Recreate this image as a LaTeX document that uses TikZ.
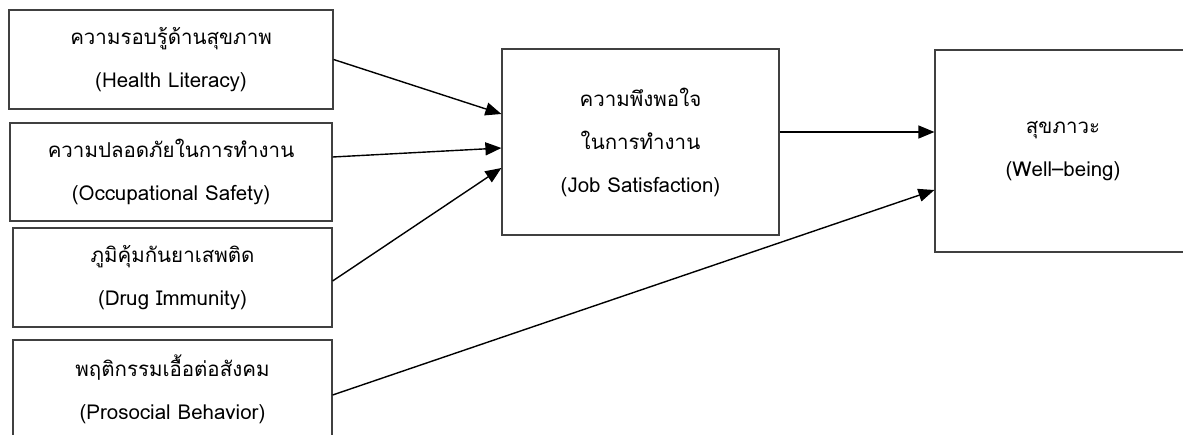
\documentclass[tikz,border=0pt]{standalone}
\usepackage{fontspec}
\usetikzlibrary{arrows.meta}
\newfontfamily\thaifont[Script=Thai]{Loma}
\begin{document}
\begin{tikzpicture}[x=1pt,y=-1pt,
  box/.style={draw=black!75, line width=1.2pt, inner sep=0pt, align=center,
    font=\thaifont\fontsize{20.5}{43}\selectfont},
  arr/.style={-{Triangle[length=16pt,width=13pt]}, line width=1.4pt, draw=black}]
\useasboundingbox (0,0) rectangle (1183,434);
\node[box, minimum width=324pt, minimum height=99pt] (b1) at (171,59.5)
  {ความรอบรู้ด้านสุขภาพ\\(Health Literacy)};
\node[box, minimum width=322pt, minimum height=98pt] (b2) at (171,172)
  {ความปลอดภัยในการทำงาน\\(Occupational Safety)};
\node[box, minimum width=319pt, minimum height=99pt] (b3) at (172.5,277.5)
  {ภูมิคุ้มกันยาเสพติด\\(Drug Immunity)};
\node[box, minimum width=319pt, minimum height=99pt] (b4) at (172.5,389.5)
  {พฤติกรรมเอื้อต่อสังคม\\(Prosocial Behavior)};
\node[box, minimum width=277pt, minimum height=186pt] (m) at (640.5,142)
  {ความพึงพอใจ\\ในการทำงาน\\(Job Satisfaction)};
\node[box, minimum width=256pt, minimum height=202pt] (r) at (1063,151)
  {สุขภาวะ\\(Well–being)};
\draw[arr] (b1.east) -- ([yshift=28pt]m.west);
\draw[arr] ([yshift=15pt]b2.east) -- ([yshift=-6pt]m.west);
\draw[arr] ([yshift=-3.5pt]b3.east) -- ([yshift=-26pt]m.west);
\draw[arr] ([yshift=10pt]m.east) -- ([yshift=19pt]r.west);
\draw[arr] ([yshift=-5.5pt]b4.east) -- ([yshift=-39pt]r.west);
\end{tikzpicture}
\end{document}
